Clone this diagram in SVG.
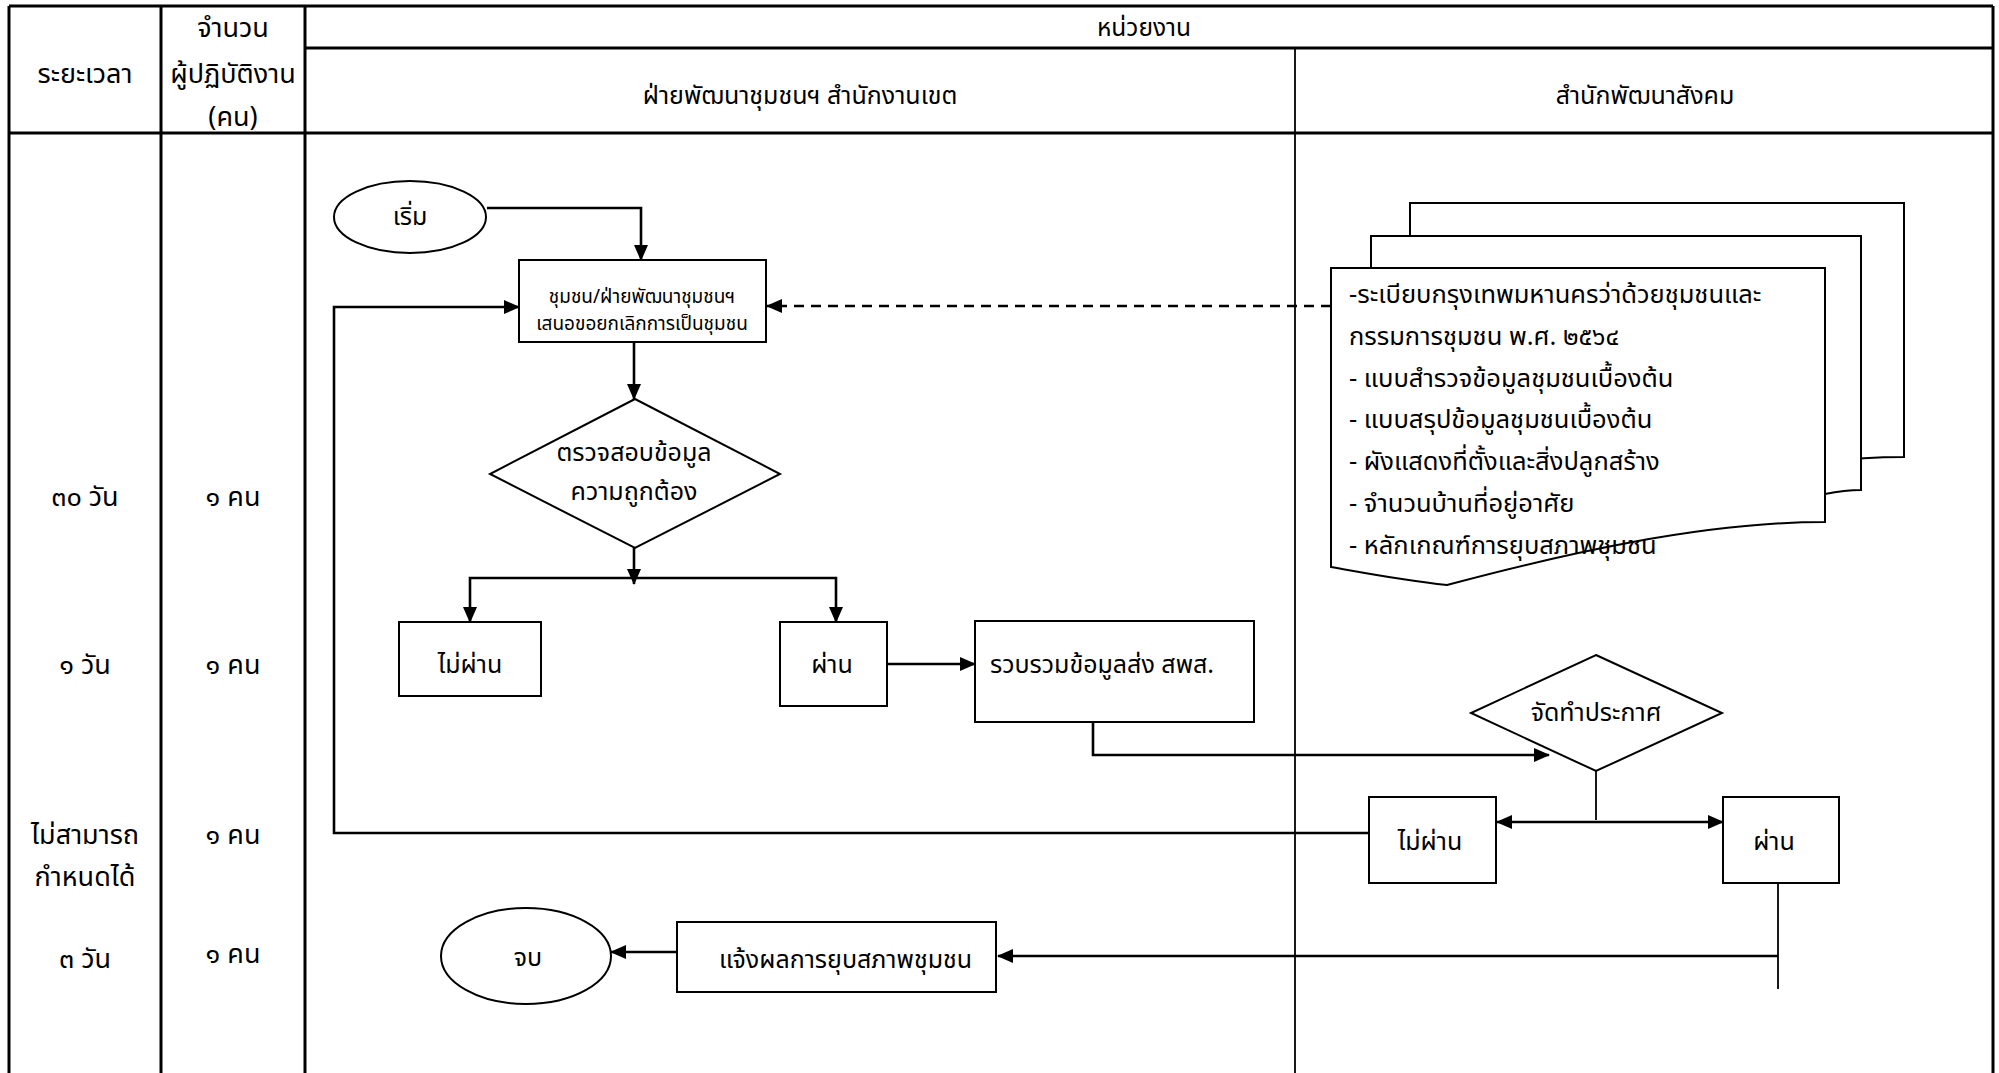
<svg xmlns="http://www.w3.org/2000/svg" width="1999" height="1073" viewBox="0 0 1999 1073">
<style>
.t{font-family:"Noto Sans Thai","Noto Sans","DejaVu Sans",sans-serif;font-size:25px;fill:#000;text-anchor:middle;dominant-baseline:central}
.tl{font-family:"Noto Sans Thai","Noto Sans","DejaVu Sans",sans-serif;font-size:25px;fill:#000;text-anchor:start;dominant-baseline:central}
.side{font-size:27px}
.doc{font-size:25.5px}
.grid{stroke:#000;stroke-width:3;fill:none}
.thin{stroke:#000;stroke-width:1.8;fill:none}
.shape{stroke:#000;stroke-width:2;fill:#fff}
.c{stroke:#000;stroke-width:2.6;fill:none}
</style>
<defs>
<marker id="arr" markerUnits="userSpaceOnUse" markerWidth="16" markerHeight="16" viewBox="0 0 16 16" refX="15" refY="8" orient="auto-start-reverse">
<path d="M0,1 L16,8 L0,15 Z" fill="#000"/>
</marker>
</defs>
<rect width="1999" height="1073" fill="#fff"/>
<g id="table">
<path class="grid" d="M9,6 H1993 M9,6 V1073 M161,6 V1073 M305,6 V1073 M1993,6 V1073 M305,48 H1993 M9,133 H1993"/>
<path class="thin" d="M1295,48 V1073"/>
<text class="t" x="1144" y="28" style="font-size:24.5px">หน่วยงาน</text>
<text class="t side" x="85" y="74">ระยะเวลา</text>
<text class="t side" x="233" y="28">จำนวน</text>
<text class="t side" x="233" y="74">ผู้ปฏิบัติงาน</text>
<text class="t side" x="233" y="117">(คน)</text>
<text class="t" x="800" y="96">ฝ่ายพัฒนาชุมชนฯ สำนักงานเขต</text>
<text class="t" x="1645" y="96">สำนักพัฒนาสังคม</text>
<text class="t side" x="85" y="497">๓๐ วัน</text>
<text class="t side" x="85" y="665">๑ วัน</text>
<text class="t side" x="85" y="835">ไม่สามารถ</text>
<text class="t side" x="85" y="877">กำหนดได้</text>
<text class="t side" x="85" y="959">๓ วัน</text>
<text class="t side" x="233" y="497">๑ คน</text>
<text class="t side" x="233" y="665">๑ คน</text>
<text class="t side" x="233" y="835">๑ คน</text>
<text class="t side" x="233" y="954">๑ คน</text>
</g>
<g id="docs">
<path class="shape" d="M1410,203 H1904 V457 C1860,457 1840,460 1825,462 L1410,462 Z"/>
<path class="shape" d="M1371,236 H1861 V490 C1850,490 1835,492 1825,494 L1371,494 Z"/>
<path class="shape" d="M1331,268 H1825 V522 C1700,522 1560,555 1447,585 C1400,580 1360,572 1331,567 Z"/>
<text class="tl doc" x="1349" y="295">-ระเบียบกรุงเทพมหานครว่าด้วยชุมชนและ</text>
<text class="tl doc" x="1349" y="337">กรรมการชุมชน พ.ศ. ๒๕๖๔</text>
<text class="tl doc" x="1349" y="379">- แบบสำรวจข้อมูลชุมชนเบื้องต้น</text>
<text class="tl doc" x="1349" y="420">- แบบสรุปข้อมูลชุมชนเบื้องต้น</text>
<text class="tl doc" x="1349" y="462">- ผังแสดงที่ตั้งและสิ่งปลูกสร้าง</text>
<text class="tl doc" x="1349" y="504">- จำนวนบ้านที่อยู่อาศัย</text>
<text class="tl doc" x="1349" y="546">- หลักเกณฑ์การยุบสภาพชุมชน</text>
</g>
<g id="start">
<ellipse class="shape" cx="410" cy="217" rx="76" ry="36"/>
<text class="t" x="410" y="217">เริ่ม</text>
</g>
<g id="propose">
<rect class="shape" x="519" y="260" width="247" height="82"/>
<text class="t" x="642" y="297" style="font-size:19px">ชุมชน/ฝ่ายพัฒนาชุมชนฯ</text>
<text class="t" x="642" y="324" style="font-size:19px">เสนอขอยกเลิกการเป็นชุมชน</text>
</g>
<g id="check">
<polygon class="shape" points="635,399 780,474 635,548 490,474"/>
<text class="t" x="634" y="453">ตรวจสอบข้อมูล</text>
<text class="t" x="634" y="492">ความถูกต้อง</text>
</g>
<g id="fail1">
<rect class="shape" x="399" y="622" width="142" height="74"/>
<text class="t" x="470" y="665">ไม่ผ่าน</text>
</g>
<g id="pass1">
<rect class="shape" x="780" y="622" width="107" height="84"/>
<text class="t" x="832" y="665">ผ่าน</text>
</g>
<g id="collect">
<rect class="shape" x="975" y="621" width="279" height="101"/>
<text class="tl" x="990" y="665">รวบรวมข้อมูลส่ง สพส.</text>
</g>
<g id="announce">
<polygon class="shape" points="1596,655 1722,713 1596,771 1471,713"/>
<text class="t" x="1596" y="713">จัดทำประกาศ</text>
</g>
<g id="fail2">
<rect class="shape" x="1369" y="797" width="127" height="86"/>
<text class="t" x="1430" y="842">ไม่ผ่าน</text>
</g>
<g id="pass2">
<rect class="shape" x="1723" y="797" width="116" height="86"/>
<text class="t" x="1774" y="842">ผ่าน</text>
</g>
<g id="notify">
<rect class="shape" x="677" y="922" width="319" height="70"/>
<text class="tl" x="719" y="960">แจ้งผลการยุบสภาพชุมชน</text>
</g>
<g id="end">
<ellipse class="shape" cx="526" cy="956" rx="85" ry="48"/>
<text class="t" x="528" y="958">จบ</text>
</g>
<g id="connectors">
<path class="c" d="M487,208 H641 V260" marker-end="url(#arr)"/>
<path class="c" d="M1331,306 H767" stroke-dasharray="10,7" marker-end="url(#arr)"/>
<path class="c" d="M1369,833 H334 V307 H519" marker-end="url(#arr)"/>
<path class="c" d="M634,342 V399" marker-end="url(#arr)"/>
<path class="c" d="M634,548 V584" marker-end="url(#arr)"/>
<path class="c" d="M634,578 H470 V622" marker-end="url(#arr)"/>
<path class="c" d="M634,578 H836 V622" marker-end="url(#arr)"/>
<path class="c" d="M887,664 H975" stroke-width="3.6" marker-end="url(#arr)"/>
<path class="c" d="M1093,722 V755 H1549" marker-end="url(#arr)"/>
<path class="thin" d="M1596,771 V820"/>
<path class="c" d="M1497,822 H1723" marker-start="url(#arr)" marker-end="url(#arr)"/>
<path class="thin" d="M1778,883 V989"/>
<path class="c" d="M1778,956 H998" marker-end="url(#arr)"/>
<path class="c" d="M677,952 H611" marker-end="url(#arr)"/>
</g>
</svg>
